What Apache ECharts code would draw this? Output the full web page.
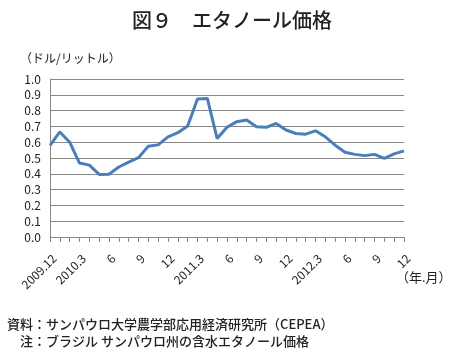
<!DOCTYPE html>
<html><head><meta charset="utf-8">
<script src="https://cdn.jsdelivr.net/npm/echarts@6/dist/echarts.min.js"></script>
<style>html,body{margin:0;padding:0;background:#fff}#c{width:452px;height:356px}</style>
</head><body><div id="c"></div>
<script>
const categories = ['2009.12','2010.1','2010.2','2010.3','4','5','6','7','8','9','10','11','12','2011.1','2011.2','2011.3','4','5','6','7','8','9','10','11','12','2012.1','2012.2','2012.3','4','5','6','7','8','9','10','11','12'];
const prices = [0.58,0.665,0.60,0.468,0.455,0.396,0.397,0.443,0.474,0.502,0.575,0.583,0.634,0.660,0.702,0.874,0.877,0.623,0.695,0.730,0.740,0.698,0.694,0.719,0.677,0.655,0.651,0.672,0.634,0.581,0.536,0.523,0.515,0.523,0.498,0.526,0.545];
const yTicks = [0,0.1,0.2,0.3,0.4,0.5,0.6,0.7,0.8,0.9,1.0];
const font = '"Noto Sans CJK JP", "Noto Sans", sans-serif';
const chart = echarts.init(document.getElementById('c'));
chart.setOption({
  animation: false,
  title: [
    {text: '図９　エタノール価格', left: 227, top: 5, textAlign: 'center',
     textStyle: {fontFamily: font, fontSize: 20, fontWeight: 500, color: '#222'}},
  ],
  graphic: [
    {type: 'text', left: 20, top: 52, style: {text: '（ドル/リットル）', font: '12px ' + font, fill: '#222'}},
    {type: 'text', left: 396, top: 271, style: {text: '（年.月）', font: '13px ' + font, fill: '#222'}},
    {type: 'text', left: 7, top: 318, style: {text: '資料：サンパウロ大学農学部応用経済研究所（CEPEA）', font: '500 13px ' + font, fill: '#222'}},
    {type: 'text', left: 7, top: 335, style: {text: '　注：ブラジル サンパウロ州の含水エタノール価格', font: '500 13px ' + font, fill: '#222'}}
  ],
  grid: {left: 50, right: 48, top: 79, bottom: 119, containLabel: false},
  xAxis: {
    type: 'category', data: categories, boundaryGap: false,
    axisLine: {lineStyle: {color: '#888', width: 1}},
    axisTick: {show: true, interval: 0, length: 5, lineStyle: {color: '#888'}},
    axisLabel: {
      interval: 0, rotate: 45, margin: 15, align: 'right', verticalAlign: 'top', color: '#222', fontFamily: font, fontSize: 12,
      formatter: (v, i) => (i % 3 === 0 ? v : '')
    },
    splitLine: {show: false}
  },
  yAxis: {
    type: 'value', min: 0, max: 1.0, interval: 0.1,
    axisLine: {show: true, lineStyle: {color: '#888'}},
    axisTick: {show: false},
    axisLabel: {color: '#222', fontFamily: font, fontSize: 12, margin: 9,
      formatter: v => v.toFixed(1)},
    splitLine: {lineStyle: {color: '#888', width: 1}}
  },
  series: [{
    type: 'line', data: prices, symbol: 'none',
    lineStyle: {color: '#4a7ebb', width: 3}
  }]
});
</script></body></html>
